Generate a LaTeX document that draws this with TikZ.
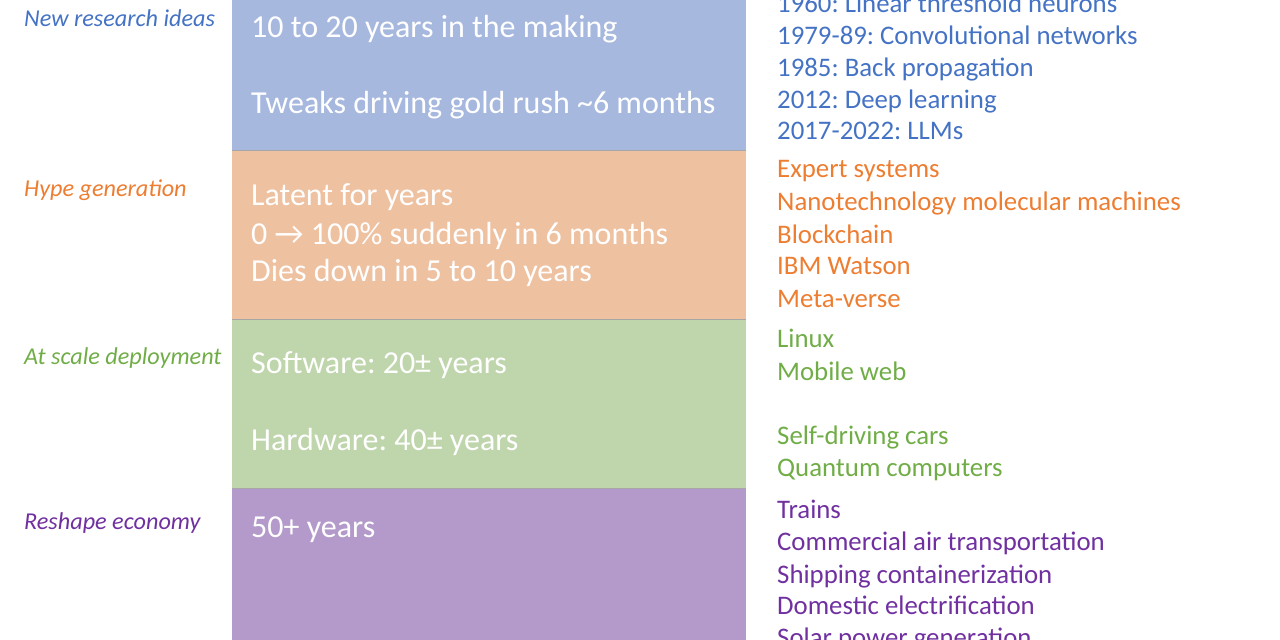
\documentclass[tikz,border=0pt]{standalone}
\usepackage{fontspec}
\setmainfont{Carlito}
\usetikzlibrary{positioning}

\definecolor{ideablue}{HTML}{4472C4}
\definecolor{hypeorange}{HTML}{ED7D31}
\definecolor{scalegreen}{HTML}{70AD47}
\definecolor{econpurple}{HTML}{7030A0}
\definecolor{bandblue}{HTML}{A7B8DF}
\definecolor{bandorange}{HTML}{EEC1A1}
\definecolor{bandgreen}{HTML}{BFD5AC}
\definecolor{bandpurple}{HTML}{B39ACB}

\begin{document}
\frenchspacing
\begin{tikzpicture}[x=1pt,y=-1pt,
	phase/.style={anchor=base west,inner sep=0pt,font=\fontsize{24.2}{29}\selectfont\itshape},
	span/.style={anchor=base west,inner sep=0pt,text=white,font=\fontsize{32}{39}\selectfont},
	case/.style={anchor=base west,inner sep=0pt,font=\fontsize{26.8}{32.5}\selectfont}]
	
	\useasboundingbox (0,0) rectangle (1280,640);
	\clip (0,0) rectangle (1280,640);
	
	% bands
	\fill [bandblue] (232,0) rectangle (746,150);
	\fill [bandorange] (232,150) rectangle (746,319);
	\fill [bandgreen] (232,319) rectangle (746,488);
	\fill [bandpurple] (232,488) rectangle (746,640);
	\draw [gray!70,line width=1pt] (232,150) -- (746,150);
	\draw [gray!70,line width=1pt] (232,319) -- (746,319);
	\draw [gray!70,line width=1pt] (232,488) -- (746,488);
	
	% left labels
	\node [phase,text=ideablue] (ideas) at (24,26.5) {New research ideas};
	\node [phase,text=hypeorange] (hype) at (24,196.5) {Hype generation};
	\node [phase,text=scalegreen] (scale) at (24,364.5) {At scale deployment};
	\node [phase,text=econpurple] (econ) at (24,529.5) {Reshape economy};
	
	% durations
	\node [span] (making) at (251,37) {10 to 20 years in the making};
	\node [span] (tweaks) at (251,113) {Tweaks driving gold rush \textasciitilde 6 months};
	\node [span] (latent) at (251,205) {Latent for years};
	\node [span] (sudden) at (251,244) {0 → 100\% suddenly in 6 months};
	\node [span] (dies) at (251,281) {Dies down in 5 to 10 years};
	\node [span] (soft) at (251,373) {Software: 20± years};
	\node [span] (hard) at (251,450) {Hardware: 40± years};
	\node [span] (fifty) at (251,537) {50+ years};
	
	% examples
	\node [case,text=ideablue] (neurons) at (777,12.5) {1960: Linear threshold neurons};
	\node [case,text=ideablue] (conv) at (777,44.5) {1979-89: Convolutional networks};
	\node [case,text=ideablue] (backprop) at (777,76.5) {1985: Back propagation};
	\node [case,text=ideablue] (deep) at (777,108.5) {2012: Deep learning};
	\node [case,text=ideablue] (llm) at (777,139.5) {2017-2022: LLMs};
	
	\node [case,text=hypeorange] (expert) at (777,177) {Expert systems};
	\node [case,text=hypeorange] (nano) at (777,210) {Nanotechnology molecular machines};
	\node [case,text=hypeorange] (chain) at (777,243) {Blockchain};
	\node [case,text=hypeorange] (watson) at (777,274.5) {IBM Watson};
	\node [case,text=hypeorange] (meta) at (777,307) {Meta-verse};
	
	\node [case,text=scalegreen] (linux) at (777,347.5) {Linux};
	\node [case,text=scalegreen] (mobile) at (777,380.5) {Mobile web};
	\node [case,text=scalegreen] (cars) at (777,444.5) {Self-driving cars};
	\node [case,text=scalegreen] (quantum) at (777,476.5) {Quantum computers};
	
	\node [case,text=econpurple] (trains) at (777,518.5) {Trains};
	\node [case,text=econpurple] (air) at (777,550.5) {Commercial air transportation};
	\node [case,text=econpurple] (ship) at (777,583.5) {Shipping containerization};
	\node [case,text=econpurple] (power) at (777,614.5) {Domestic electrification};
	\node [case,text=econpurple] (solar) at (777,646.5) {Solar power generation};
	
\end{tikzpicture}
\end{document}
